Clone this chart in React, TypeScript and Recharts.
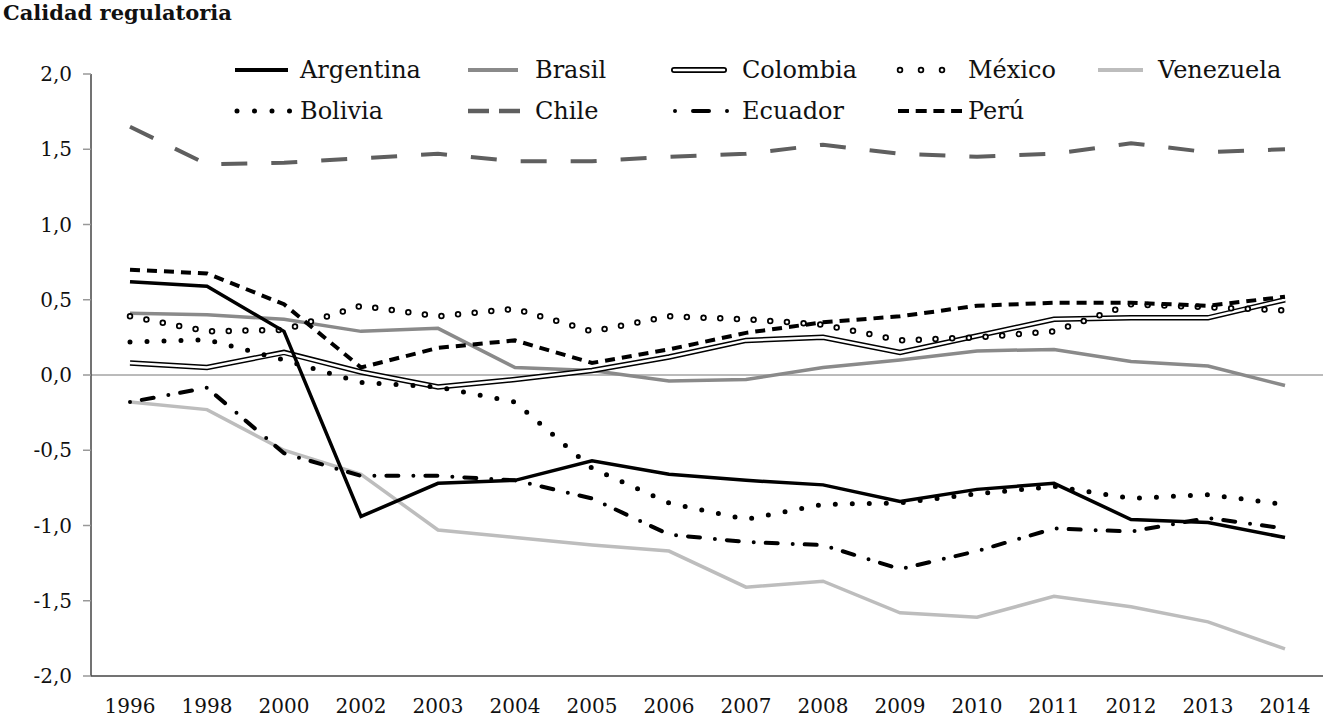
import { LineChart, Line, XAxis, YAxis, ReferenceLine } from "recharts";

const years = ["1996", "1998", "2000", "2002", "2003", "2004", "2005", "2006", "2007", "2008", "2009", "2010", "2011", "2012", "2013", "2014"];

const argentina = [0.62, 0.59, 0.29, -0.94, -0.72, -0.7, -0.57, -0.66, -0.7, -0.73, -0.84, -0.76, -0.72, -0.96, -0.98, -1.08];
const bolivia = [0.22, 0.235, 0.1, -0.05, -0.08, -0.18, -0.62, -0.85, -0.96, -0.86, -0.85, -0.79, -0.74, -0.82, -0.795, -0.86];
const brasil = [0.41, 0.4, 0.37, 0.29, 0.31, 0.05, 0.03, -0.04, -0.03, 0.05, 0.1, 0.16, 0.17, 0.09, 0.06, -0.07];
const chile = [1.65, 1.4, 1.41, 1.44, 1.47, 1.42, 1.42, 1.45, 1.47, 1.53, 1.47, 1.45, 1.47, 1.54, 1.48, 1.5];
const colombia = [0.08, 0.05, 0.15, 0.02, -0.08, -0.03, 0.03, 0.12, 0.23, 0.25, 0.15, 0.26, 0.37, 0.38, 0.38, 0.5];
const ecuador = [-0.18, -0.085, -0.52, -0.67, -0.67, -0.7, -0.82, -1.06, -1.11, -1.13, -1.29, -1.17, -1.02, -1.04, -0.95, -1.02];
const mexico = [0.39, 0.29, 0.3, 0.46, 0.39, 0.44, 0.29, 0.39, 0.37, 0.335, 0.23, 0.25, 0.29, 0.47, 0.45, 0.43];
const peru = [0.7, 0.675, 0.47, 0.05, 0.18, 0.23, 0.08, 0.17, 0.28, 0.35, 0.39, 0.46, 0.48, 0.48, 0.46, 0.52];
const venezuela = [-0.18, -0.23, -0.5, -0.66, -1.03, -1.08, -1.13, -1.17, -1.41, -1.37, -1.58, -1.61, -1.47, -1.54, -1.64, -1.82];

const yTicks = [-2, -1.5, -1, -0.5, 0, 0.5, 1, 1.5, 2];

const data = years.map((year, i) => ({
  year,
  argentina: argentina[i],
  bolivia: bolivia[i],
  brasil: brasil[i],
  chile: chile[i],
  colombia: colombia[i],
  ecuador: ecuador[i],
  mexico: mexico[i],
  peru: peru[i],
  venezuela: venezuela[i],
}));

const FONT = "'DejaVu Serif', serif";

function fmt(v: number) {
  return v.toFixed(1).replace(".", ",");
}

// legend + title drawn as a plain svg overlay
function Header() {
  const r1 = 70;
  const r2 = 111;
  const txt = (x: number, y: number, s: string) => (
    <text x={x} y={y + 8} fontSize={24} fill="#111" fontFamily={FONT}>
      {s}
    </text>
  );
  return (
    <svg width={1327} height={140} style={{ position: "absolute", left: 0, top: 0 }}>
      <text x={3} y={20} fontSize={21} fontWeight="bold" fill="#111" fontFamily={FONT}>
        Calidad regulatoria
      </text>
      {/* row 1 */}
      <line x1={235} x2={288} y1={r1} y2={r1} stroke="#000" strokeWidth={4} />
      {txt(300, r1, "Argentina")}
      <line x1={468} x2={518} y1={r1} y2={r1} stroke="#8a8a8a" strokeWidth={4} />
      {txt(535, r1, "Brasil")}
      <line x1={674} x2={724} y1={r1} y2={r1} stroke="#000" strokeWidth={6} strokeLinecap="round" />
      <line x1={674} x2={724} y1={r1} y2={r1} stroke="#fff" strokeWidth={2.5} strokeLinecap="round" />
      {txt(742, r1, "Colombia")}
      <line x1={900} x2={963} y1={r1} y2={r1} stroke="#000" strokeWidth={6.5} strokeLinecap="round" strokeDasharray="0 21" />
      <line x1={900} x2={963} y1={r1} y2={r1} stroke="#fff" strokeWidth={3} strokeLinecap="round" strokeDasharray="0 21" />
      {txt(968, r1, "México")}
      <line x1={1098} x2={1143} y1={r1} y2={r1} stroke="#bdbdbd" strokeWidth={4} />
      {txt(1158, r1, "Venezuela")}
      {/* row 2 */}
      <line x1={237} x2={290} y1={r2} y2={r2} stroke="#000" strokeWidth={5} strokeLinecap="round" strokeDasharray="0 17.5" />
      {txt(300, r2, "Bolivia")}
      <line x1={468} x2={520} y1={r2} y2={r2} stroke="#5f5f5f" strokeWidth={4.5} strokeDasharray="21 10" />
      {txt(535, r2, "Chile")}
      <line x1={675} x2={728} y1={r2} y2={r2} stroke="#000" strokeWidth={4} strokeLinecap="round" strokeDasharray="0 18 16 18" />
      {txt(742, r2, "Ecuador")}
      <line x1={898} x2={962} y1={r2} y2={r2} stroke="#000" strokeWidth={4} strokeDasharray="11 6.7" />
      {txt(968, r2, "Perú")}
    </svg>
  );
}

export default function App() {
  return (
    <div style={{ position: "absolute", left: 0, top: 0, width: 1327, height: 717, background: "#fff", fontFamily: FONT }}>
      <LineChart
        width={1327}
        height={717}
        data={data}
        margin={{ top: 74, right: 4, bottom: 0, left: 31 }}
      >
        <XAxis
          dataKey="year"
          axisLine={{ stroke: "#444", strokeWidth: 1.5 }}
          tickLine={false}
          tickSize={0}
          tickMargin={23}
          height={41}
          interval={0}
          padding={{ left: 39, right: 38 }}
          tick={{ fontSize: 20, fill: "#111", fontFamily: FONT }}
        />
        <YAxis
          type="number"
          domain={[-2, 2]}
          ticks={yTicks}
          width={60}
          axisLine={{ stroke: "#444", strokeWidth: 1.5 }}
          tickLine={{ stroke: "#999", strokeWidth: 1.5 }}
          tickSize={8}
          tickMargin={11}
          tickFormatter={fmt}
          tick={{ fontSize: 20, fill: "#111", fontFamily: FONT }}
        />
        <ReferenceLine y={0} stroke="#777" strokeWidth={1} />
        <Line dataKey="venezuela" stroke="#bdbdbd" strokeWidth={3.5} dot={false} isAnimationActive={false} />
        <Line dataKey="brasil" stroke="#8a8a8a" strokeWidth={3.5} dot={false} isAnimationActive={false} />
        <Line dataKey="chile" stroke="#5f5f5f" strokeWidth={4} strokeDasharray="26 24" dot={false} isAnimationActive={false} />
        <Line dataKey="colombia" stroke="#000" strokeWidth={5.5} dot={false} isAnimationActive={false} />
        <Line dataKey="colombia" stroke="#fff" strokeWidth={2.5} dot={false} isAnimationActive={false} legendType="none" />
        <Line dataKey="mexico" stroke="#000" strokeWidth={6.5} strokeLinecap="round" strokeDasharray="0 16.7" dot={false} isAnimationActive={false} />
        <Line dataKey="mexico" stroke="#fff" strokeWidth={3} strokeLinecap="round" strokeDasharray="0 16.7" dot={false} isAnimationActive={false} legendType="none" />
        <Line dataKey="bolivia" stroke="#000" strokeWidth={5} strokeLinecap="round" strokeDasharray="0 17" dot={false} isAnimationActive={false} />
        <Line dataKey="ecuador" stroke="#000" strokeWidth={4} strokeLinecap="round" strokeDasharray="0 12 12 15" dot={false} isAnimationActive={false} />
        <Line dataKey="peru" stroke="#000" strokeWidth={4} strokeDasharray="10 7" dot={false} isAnimationActive={false} />
        <Line dataKey="argentina" stroke="#000" strokeWidth={3.5} dot={false} isAnimationActive={false} />
      </LineChart>
      <Header />
    </div>
  );
}
